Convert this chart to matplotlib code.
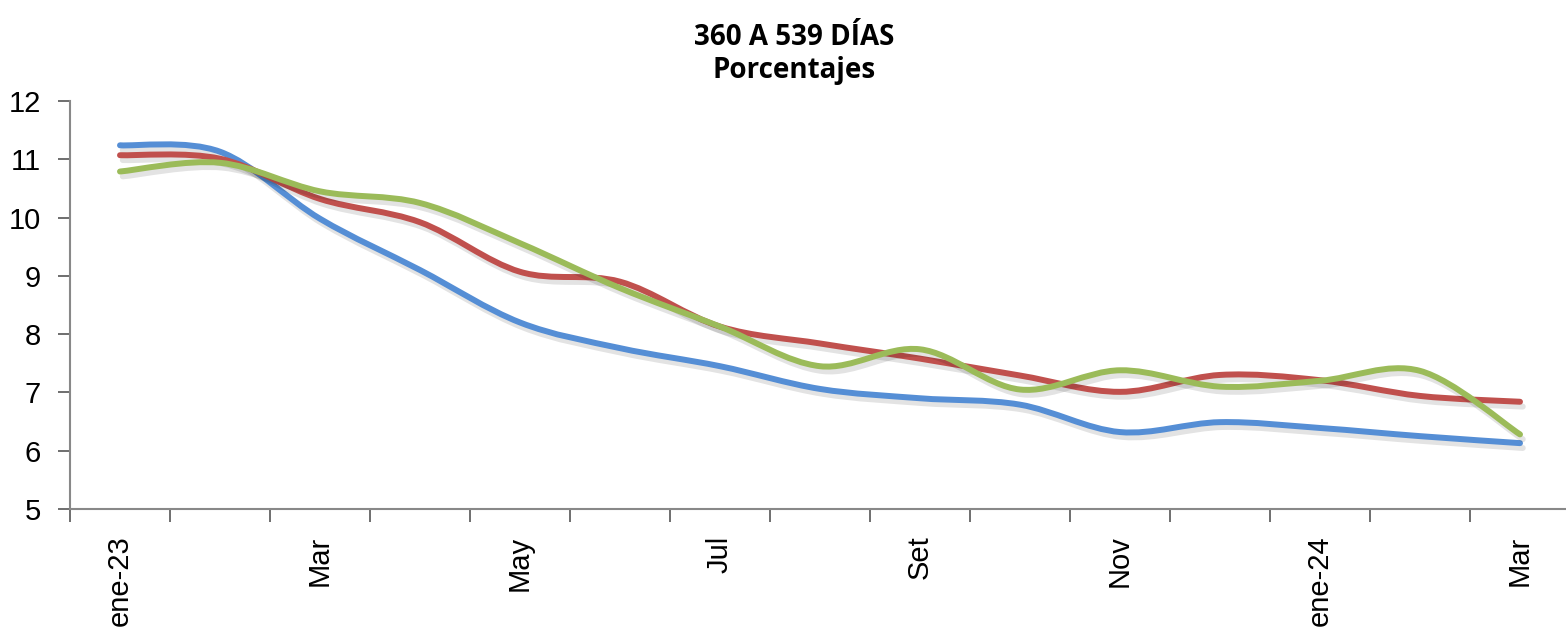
import matplotlib
matplotlib.use("Agg")
import matplotlib.pyplot as plt
import matplotlib.patheffects as pe
from matplotlib.path import Path
from matplotlib.patches import PathPatch
import numpy as np

# Monthly rates, ene-23 .. Mar-24
months = ["ene-23", "Feb", "Mar", "Abr", "May", "Jun", "Jul", "Ago",
          "Set", "Oct", "Nov", "Dic", "ene-24", "Feb", "Mar"]
serie_azul = [11.24, 11.13, 9.98, 9.10, 8.20, 7.76, 7.45, 7.06,
              6.90, 6.79, 6.32, 6.49, 6.39, 6.25, 6.13]
serie_roja = [11.07, 11.01, 10.32, 9.92, 9.07, 8.90, 8.13, 7.84,
              7.58, 7.29, 7.01, 7.30, 7.21, 6.94, 6.84]
serie_verde = [10.79, 10.94, 10.45, 10.25, 9.56, 8.79, 8.13, 7.45,
               7.74, 7.05, 7.38, 7.10, 7.20, 7.37, 6.28]
shown_labels = ["ene-23", "Mar", "May", "Jul", "Set", "Nov", "ene-24", "Mar"]


def smooth_path(xs, ys):
    """Bezier path through the points, Excel-style smoothing."""
    pts = np.column_stack([xs, ys]).astype(float)
    n = len(pts)
    verts = [pts[0]]
    codes = [Path.MOVETO]
    for i in range(n - 1):
        p0 = pts[i - 1] if i > 0 else pts[i]
        p1 = pts[i]
        p2 = pts[i + 1]
        p3 = pts[i + 2] if i + 2 < n else pts[i + 1]
        c1 = p1 + (p2 - p0) / 6.0
        c2 = p2 - (p3 - p1) / 6.0
        verts += [c1, c2, p2]
        codes += [Path.CURVE4] * 3
    return Path(verts, codes)


fig = plt.figure(figsize=(15.66, 6.33), dpi=100)
ax = fig.add_axes([70 / 1566, 124 / 633, 1500 / 1566, 408 / 633])

x = np.arange(len(months))
shadow = [pe.SimpleLineShadow(offset=(2, -3.5), shadow_color="black", alpha=0.11),
          pe.Normal()]
for vals, color in [(serie_azul, "#558ED5"), (serie_roja, "#C0504D"),
                    (serie_verde, "#9BBB59")]:
    patch = PathPatch(smooth_path(x, vals), facecolor="none", edgecolor=color,
                      lw=4.3, capstyle="round", joinstyle="round")
    patch.set_path_effects(shadow)
    ax.add_patch(patch)

ax.set_xlim(-0.5, len(months) - 0.5)
ax.set_ylim(5, 12)
ax.set_yticks(range(5, 13))
ax.set_yticklabels([str(v) for v in range(5, 13)], fontsize=21,
                   family="Liberation Sans")

# tick marks between months, labels centred on every other month
ax.set_xticks(np.arange(-0.5, len(months) + 0.5, 1))
ax.set_xticklabels([])
ax.set_xticks(x[::2], minor=True)
ax.set_xticklabels(shown_labels, minor=True, rotation=90, fontsize=21,
                   family="Liberation Sans", va="top", ha="center")
ax.tick_params(axis="x", which="major", length=9, width=1.2, color="#555555",
               direction="out")
ax.tick_params(axis="x", which="minor", length=0, pad=19)
ax.tick_params(axis="y", length=9, width=1.2, color="#555555", pad=12)

for side in ["top", "right"]:
    ax.spines[side].set_visible(False)
for side in ["left", "bottom"]:
    ax.spines[side].set_color("#888888")
    ax.spines[side].set_linewidth(1.5)

fig.text(794 / 1566, 1 - 54 / 633, "360 A 539 DÍAS\nPorcentajes", ha="center",
         va="center", fontsize=20, fontweight="bold", family="Open Sans",
         linespacing=1.2)

fig.savefig("out.png", dpi=100)
